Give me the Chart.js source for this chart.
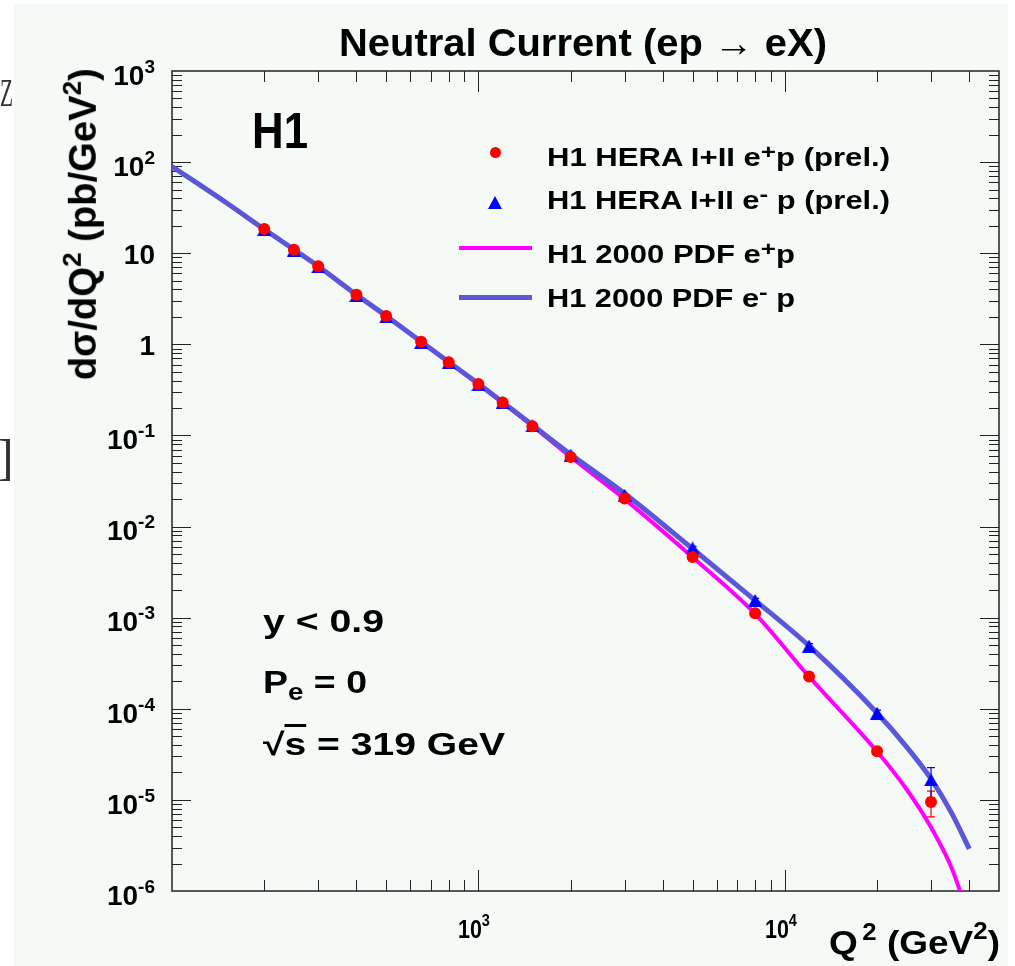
<!DOCTYPE html>
<html>
<head>
<meta charset="utf-8">
<script src="https://cdn.jsdelivr.net/npm/chart.js@4.4.1/dist/chart.umd.min.js"></script>
<style>
  html, body { margin: 0; padding: 0; background: #fff; }
  #page { position: relative; width: 1015px; height: 966px; overflow: hidden; background: #fff; }
  #panel { position: absolute; left: 14px; top: 4px; width: 994px; height: 962px; background: #f6faf7; }
  #chart { position: absolute; left: 0; top: 0; }
  .txt { position: absolute; white-space: nowrap; line-height: 1; color: #000;
         font-family: "Liberation Sans", Arial, Helvetica, sans-serif; font-weight: bold; }
  .mk { position: absolute; }
</style>
</head>
<body>
<div id="page">
  <div id="panel"></div>
  <canvas id="chart" width="1015" height="966"></canvas>
</div>
<script>
// measured points (Q2 in GeV^2, dsigma/dQ2 in pb/GeV^2)
const pointQ2 = [200, 250, 300, 400, 500, 650, 800, 1000, 1200, 1500, 2000, 3000, 5000, 8000, 12000, 20000, 30000];
const ePlusData = [18.5, 10.9, 7.2, 3.5, 2.05, 1.07, 0.634, 0.366, 0.23, 0.126, 0.058, 0.0203, 4.63e-3, 1.12e-3, 2.26e-4, 3.42e-5, 9.5e-6];
const ePlusErr = [0.6, 0.35, 0.22, 0.1, 0.06, 0.03, 0.018, 0.01, 0.007, 0.004, 0.002, 7e-4, 1.8e-4, 5e-5, 1.2e-5, 3.5e-6, 3.0e-6];
const eMinusData = [18.3, 10.8, 7.1, 3.45, 2.0, 1.05, 0.63, 0.36, 0.23, 0.127, 0.061, 0.0221, 5.82e-3, 1.55e-3, 4.88e-4, 8.95e-5, 1.66e-5];
const eMinusErr = [0.7, 0.4, 0.25, 0.12, 0.07, 0.035, 0.02, 0.012, 0.008, 0.005, 0.0025, 9e-4, 2.4e-4, 8e-5, 3e-5, 7e-6, 6e-6];

// H1 2000 PDF predictions
const curveQ2 = [100, 150, 200, 300, 400, 500, 650, 800, 1000, 1500, 2000, 3000, 5000, 8000, 12000, 20000, 25000, 30000, 35000, 40000];
const ePlusCurve = [89.5, 36, 18.3, 7.2, 3.5, 2.05, 1.07, 0.64, 0.365, 0.127, 0.058, 0.0200, 4.6e-3, 1.1e-3, 2.25e-4, 3.4e-5, 1.3e-5, 5.0e-6, 1.8e-6, 5e-7];
const eMinusCurve = [89.5, 36, 18.3, 7.2, 3.5, 2.05, 1.07, 0.64, 0.37, 0.13, 0.062, 0.023, 5.7e-3, 1.55e-3, 4.9e-4, 9.0e-5, 3.8e-5, 1.7e-5, 7.2e-6, 2.9e-6];

// axes
const xRange = [100, 50000];
const yRange = [1e-6, 1e3];
const xTickValues = [1000, 10000];
const xTickLabels = ['10^3', '10^4'];
const yTickValues = [1e3, 1e2, 10, 1, 1e-1, 1e-2, 1e-3, 1e-4, 1e-5, 1e-6];
const yTickLabels = ['10^3', '10^2', '10', '1', '10^-1', '10^-2', '10^-3', '10^-4', '10^-5', '10^-6'];

const RED = '#ff0000', BLUE = '#0000ff', MAGENTA = '#ff00ff', SLATE = '#5b57d8';

const toXY = (xs, ys) => xs.map((x, i) => ({ x: x, y: ys[i] }));

function triangleMarker(w, h, color) {
    const c = document.createElement('canvas');
    c.width = w; c.height = h;
    const g = c.getContext('2d');
    g.fillStyle = color;
    g.beginPath();
    g.moveTo(w / 2, 0); g.lineTo(w, h); g.lineTo(0, h);
    g.closePath(); g.fill();
    return c;
}

// error bars under the markers
const errorBars = {
    id: 'errorBars',
    beforeDatasetsDraw(chart) {
        const { ctx, scales: { x, y } } = chart;
        chart.data.datasets.forEach(ds => {
            if (!ds.errors) return;
            ctx.save();
            ctx.strokeStyle = ds.errColor;
            ctx.lineWidth = 1.2;
            ctx.beginPath();
            ds.data.forEach((p, i) => {
                const e = ds.errors[i];
                const px = x.getPixelForValue(p.x);
                const yt = y.getPixelForValue(p.y + e);
                const yb = y.getPixelForValue(p.y - e);
                ctx.moveTo(px, yt); ctx.lineTo(px, yb);
                ctx.moveTo(px - 4, yt); ctx.lineTo(px + 4, yt);
                ctx.moveTo(px - 4, yb); ctx.lineTo(px + 4, yb);
            });
            ctx.stroke();
            ctx.restore();
        });
    }
};

// ROOT style frame with inward ticks on all four sides
const frame = {
    id: 'frame',
    beforeDatasetsDraw(chart) {
        const { ctx, chartArea: a, scales: { x, y } } = chart;
        ctx.save();
        ctx.strokeStyle = '#222';
        ctx.lineWidth = 1;
        ctx.beginPath();
        for (let e = 2; e <= 4; e++) {
            for (let m = 1; m <= 9; m++) {
                const v = m * Math.pow(10, e);
                if (v <= xRange[0] || v >= xRange[1]) continue;
                const px = Math.round(x.getPixelForValue(v)) + 0.5;
                const len = m === 1 ? 21 : 11;
                ctx.moveTo(px, a.bottom); ctx.lineTo(px, a.bottom - len);
                ctx.moveTo(px, a.top); ctx.lineTo(px, a.top + len);
            }
        }
        for (let e = -6; e <= 3; e++) {
            for (let m = 1; m <= 9; m++) {
                const v = m * Math.pow(10, e);
                if (v <= yRange[0] * 1.0001 || v >= yRange[1] * 0.9999) continue;
                const py = Math.round(y.getPixelForValue(v)) + 0.5;
                const len = m === 1 ? 19 : 10;
                ctx.moveTo(a.left, py); ctx.lineTo(a.left + len, py);
                ctx.moveTo(a.right, py); ctx.lineTo(a.right - len, py);
            }
        }
        ctx.stroke();
        ctx.lineWidth = 1.5;
        ctx.strokeRect(a.left, a.top, a.right - a.left, a.bottom - a.top);
        ctx.restore();
    }
};

const chart = new Chart(document.getElementById('chart'), {
    type: 'line',
    data: {
        datasets: [
            {
                label: 'H1 HERA I+II e+p (prel.)',
                data: toXY(pointQ2, ePlusData),
                showLine: false,
                pointStyle: 'circle',
                pointRadius: 6,
                pointBackgroundColor: RED,
                pointBorderWidth: 0,
                errors: ePlusErr,
                errColor: RED,
                order: 0
            },
            {
                label: 'H1 HERA I+II e- p (prel.)',
                data: toXY(pointQ2, eMinusData),
                showLine: false,
                pointStyle: triangleMarker(14, 13, BLUE),
                pointRadius: 7,
                errors: eMinusErr,
                errColor: BLUE,
                order: 1
            },
            {
                label: 'H1 2000 PDF e- p',
                data: toXY(curveQ2, eMinusCurve),
                borderColor: SLATE,
                borderWidth: 5,
                pointRadius: 0,
                cubicInterpolationMode: 'monotone',
                clip: 0,
                order: 2
            },
            {
                label: 'H1 2000 PDF e+p',
                data: toXY(curveQ2, ePlusCurve),
                borderColor: MAGENTA,
                borderWidth: 4,
                pointRadius: 0,
                cubicInterpolationMode: 'monotone',
                clip: 0,
                order: 3
            }
        ]
    },
    options: {
        responsive: false,
        animation: false,
        devicePixelRatio: 1,
        events: [],
        layout: { padding: { left: 172, top: 71, right: 16, bottom: 75 } },
        plugins: { legend: { display: false }, tooltip: { enabled: false } },
        scales: {
            x: { type: 'logarithmic', min: xRange[0], max: xRange[1], display: false },
            y: { type: 'logarithmic', min: yRange[0], max: yRange[1], display: false }
        }
    },
    plugins: [frame, errorBars]
});

// ---- text, as html on top of the canvas ----
const page = document.getElementById('page');

function sup(t, size, raise, gap) {
    return `<span style="font-size:${size}px;position:relative;top:${-raise}px;margin-left:${gap || 0}px">${t}</span>`;
}

function place(html, o) {
    const el = document.createElement('div');
    el.className = 'txt';
    el.innerHTML = html;
    el.style.fontSize = o.size + 'px';
    if (o.weight) el.style.fontWeight = o.weight;
    if (o.family) el.style.fontFamily = o.family;
    if (o.color) el.style.color = o.color;
    page.appendChild(el);
    const w = el.getBoundingClientRect().width;
    const k = o.width ? o.width / w : 1;
    const asc = 0.8466 * o.size;
    let left = o.left;
    if (o.center !== undefined) left = o.center - w * k / 2;
    if (o.right !== undefined) left = o.right - w * k;
    el.style.left = left + 'px';
    el.style.top = (o.baseline - asc) + 'px';
    el.style.transformOrigin = `0px ${asc}px`;
    el.style.transform = (o.rotate ? `rotate(${o.rotate}deg) ` : '') + `scaleX(${k})`;
    return el;
}

function marker(style) {
    const d = document.createElement('div');
    d.className = 'mk';
    d.style.cssText += style;
    page.appendChild(d);
}

function tickHtml(label, expSize, expRaise) {
    const parts = label.split('^');
    return parts.length > 1 ? parts[0] + sup(parts[1], expSize, expRaise) : parts[0];
}

const xs = chart.scales.x, ys = chart.scales.y;

yTickValues.forEach((v, i) => {
    const py = ys.getPixelForValue(v);
    const hasExp = yTickLabels[i].includes('^');
    place(tickHtml(yTickLabels[i], 19, 12), { right: 155, baseline: py + (hasExp ? 14.5 : 11), size: 28 });
});
xTickValues.forEach((v, i) => {
    const px = xs.getPixelForValue(v);
    place(tickHtml(xTickLabels[i], 17, 12), { center: px - 4, baseline: 938, size: 25, width: 32 });
});

// title and axis titles
place('Neutral Current (ep <span style="font-weight:normal">&rarr;</span> eX)', { left: 339, baseline: 56, size: 39, width: 488 });
place(`d&sigma;/dQ${sup('2', 26, 15)} (pb/GeV${sup('2', 26, 15)})`, { left: 96, baseline: 380, size: 38, width: 312, rotate: -90 });
place(`Q${sup('2', 23, 14, 4)} (GeV${sup('2', 23, 15)})`, { left: 829, baseline: 954, size: 33, width: 171 });

// labels inside the frame
place('H1', { left: 252, baseline: 148, size: 50, width: 56 });
place('y &lt; 0.9', { left: 263, baseline: 632, size: 31, width: 121 });
place(`P<span style="font-size:23px;position:relative;top:7px">e</span> = 0`, { left: 263, baseline: 693, size: 31, width: 104 });
place('&radic;<span style="text-decoration:overline">s</span> = 319 GeV', { left: 263, baseline: 755, size: 31, width: 242 });

// legend
place(`H1 HERA I+II e${sup('+', 21, 7)}p (prel.)`, { left: 547, baseline: 166, size: 25, width: 343 });
place(`H1 HERA I+II e${sup('-', 21, 8)} p (prel.)`, { left: 547, baseline: 209, size: 25, width: 343 });
place(`H1 2000 PDF e${sup('+', 21, 7)}p`, { left: 547, baseline: 263, size: 25, width: 248 });
place(`H1 2000 PDF e${sup('-', 21, 8)} p`, { left: 547, baseline: 307, size: 25, width: 248 });
marker(`left:489.5px;top:147px;width:11px;height:11px;border-radius:50%;background:${RED};`);
marker(`left:488px;top:195.5px;width:0;height:0;border-left:7px solid transparent;border-right:7px solid transparent;border-bottom:13px solid ${BLUE};`);
marker(`left:459px;top:246.3px;width:73px;height:4px;background:${MAGENTA};`);
marker(`left:459px;top:295.2px;width:73px;height:5px;background:${SLATE};`);

// bits of the neighbouring page at the left margin
place('Z', { left: 0, baseline: 107, size: 40, width: 13, weight: 'normal', family: '"Liberation Serif", serif', color: '#333' });
place(']', { left: -3, baseline: 474, size: 50, weight: 'normal', family: '"Liberation Serif", serif', color: '#333' });
</script>
</body>
</html>
